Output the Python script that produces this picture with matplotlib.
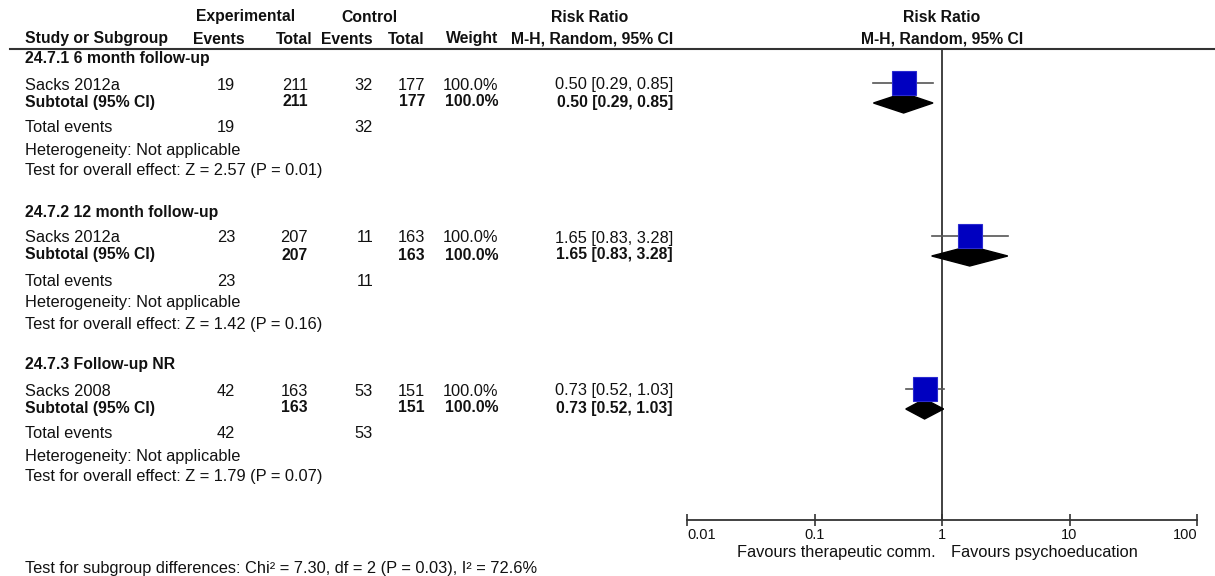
import numpy as np
import matplotlib.pyplot as plt

# data
groups = ['24.7.1 6 month follow-up', '24.7.2 12 month follow-up', '24.7.3 Follow-up NR']
studies = ['Sacks 2012a', 'Sacks 2012a', 'Sacks 2008']
exp_events = [19, 23, 42]
exp_total = [211, 207, 163]
ctrl_events = [32, 11, 53]
ctrl_total = [177, 163, 151]
weights = [100.0, 100.0, 100.0]
rr = [0.50, 1.65, 0.73]
ci_low = [0.29, 0.83, 0.52]
ci_high = [0.85, 3.28, 1.03]
z_values = [2.57, 1.42, 1.79]
p_values = [0.01, 0.16, 0.07]
ticks = [0.01, 0.1, 1, 10, 100]
tick_labels = ['0.01', '0.1', '1', '10', '100']
chi2, df_sub, p_sub, i2 = 7.30, 2, 0.03, 72.6

W, H = 1215, 576
FONT = ['Liberation Sans', 'DejaVu Sans']
TXT = '#111111'


def txt(ax, x, y, s, ha='left', bold=False):
    ax.text(x, y, s, ha=ha, va='center', color=TXT, family=FONT,
            fontweight='bold' if bold else 'normal',
            fontsize=11.3 if bold else 11.8)


fig = plt.figure(figsize=(W / 100, H / 100), dpi=100)
ax = fig.add_axes([0, 0, 1, 1])
ax.set_xlim(0, W)
ax.set_ylim(H, 0)
ax.axis('off')

# forest panel, y in the same pixel units as the text panel
x0, x1 = 687, 1197
y_top, y_axis = 49, 520
fx = fig.add_axes([x0 / W, (H - y_axis) / H, (x1 - x0) / W, (y_axis - y_top) / H])
fx.patch.set_visible(False)
fx.set_xscale('log')
fx.set_xlim(0.01, 100)
fx.set_ylim(y_axis, y_top)
for s in ['top', 'left', 'right']:
    fx.spines[s].set_visible(False)
fx.spines['bottom'].set_color('#333333')
fx.spines['bottom'].set_linewidth(1.3)
fx.set_yticks([])
fx.set_xticks(ticks)
fx.set_xticklabels(tick_labels)
fx.minorticks_off()
fx.tick_params(axis='x', direction='inout', length=9, width=1.2, color='#333333',
               labelsize=10.5, labelcolor=TXT, pad=1)
labels = fx.get_xticklabels()
labels[0].set_ha('left')
labels[-1].set_ha('right')
for lab in labels:
    lab.set_family(FONT)
fx.axvline(1, color='#333333', lw=1.3, zorder=1)

# header
cols = {'ev_e': 245, 'tot_e': 313, 'ev_c': 373, 'tot_c': 425, 'wt': 498, 'rr': 673}
txt(ax, 246, 17, 'Experimental', 'center', True)
txt(ax, 369, 17, 'Control', 'center', True)
txt(ax, 590, 17, 'Risk Ratio', 'center', True)
txt(ax, 942, 17, 'Risk Ratio', 'center', True)
txt(ax, 25, 39, 'Study or Subgroup', 'left', True)
txt(ax, cols['ev_e'], 39, 'Events', 'right', True)
txt(ax, cols['tot_e'], 39, 'Total', 'right', True)
txt(ax, cols['ev_c'], 39, 'Events', 'right', True)
txt(ax, cols['tot_c'], 39, 'Total', 'right', True)
txt(ax, cols['wt'], 39, 'Weight', 'right', True)
txt(ax, cols['rr'], 39, 'M-H, Random, 95% CI', 'right', True)
txt(ax, 942, 39, 'M-H, Random, 95% CI', 'center', True)
ax.plot([10, W], [49, 49], color='#333333', lw=1.5)

for i, g in enumerate(groups):
    top = 59 + i * 153
    ci = f'{rr[i]:.2f} [{ci_low[i]:.2f}, {ci_high[i]:.2f}]'
    txt(ax, 25, top, g, bold=True)

    y = top + 26
    txt(ax, 25, y, studies[i])
    txt(ax, cols['ev_e'] - 10, y, str(exp_events[i]), 'right')
    txt(ax, cols['tot_e'] - 5, y, str(exp_total[i]), 'right')
    txt(ax, cols['ev_c'], y, str(ctrl_events[i]), 'right')
    txt(ax, cols['tot_c'], y, str(ctrl_total[i]), 'right')
    txt(ax, cols['wt'], y, f'{weights[i]:.1f}%', 'right')
    txt(ax, cols['rr'], y, ci, 'right')

    y = top + 43
    txt(ax, 25, y, 'Subtotal (95% CI)', bold=True)
    txt(ax, cols['tot_e'] - 5, y, str(exp_total[i]), 'right', True)
    txt(ax, cols['tot_c'], y, str(ctrl_total[i]), 'right', True)
    txt(ax, cols['wt'], y, f'{weights[i]:.1f}%', 'right', True)
    txt(ax, cols['rr'], y, ci, 'right', True)

    y = top + 69
    txt(ax, 25, y, 'Total events')
    txt(ax, cols['ev_e'] - 10, y, str(exp_events[i]), 'right')
    txt(ax, cols['ev_c'], y, str(ctrl_events[i]), 'right')
    txt(ax, 25, top + 91, 'Heterogeneity: Not applicable')
    txt(ax, 25, top + 112, f'Test for overall effect: Z = {z_values[i]:.2f} (P = {p_values[i]:.2f})')

    # study box + CI, subtotal diamond
    yb = top + 24
    fx.plot([ci_low[i], ci_high[i]], [yb, yb], color='#555555', lw=1.2, zorder=2)
    fx.plot([rr[i]], [yb], marker='s', markersize=17.5 * np.sqrt(weights[i] / 100),
            color='#0000c0', mec='#2a2ad0', mew=0.8, zorder=4)
    yd = top + 44
    fx.fill([ci_low[i], rr[i], ci_high[i], rr[i]], [yd, yd - 10, yd, yd + 10],
            color='black', zorder=3)

txt(ax, 936, 553, 'Favours therapeutic comm.', 'right')
txt(ax, 951, 553, 'Favours psychoeducation', 'left')
txt(ax, 25, 569, f'Test for subgroup differences: Chi² = {chi2:.2f}, df = {df_sub} '
                 f'(P = {p_sub:.2f}), I² = {i2:.1f}%')

plt.savefig('out.png', dpi=100)
